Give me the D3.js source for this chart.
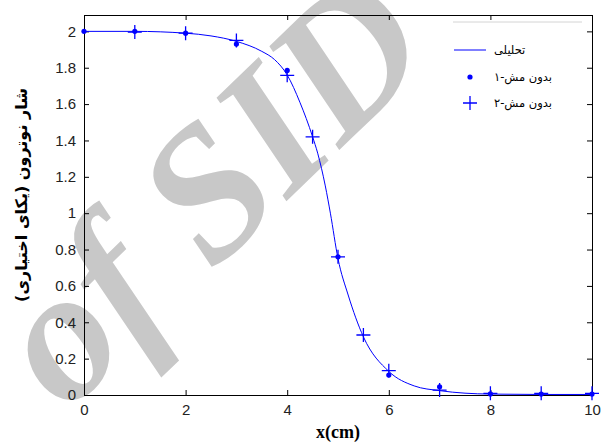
<!DOCTYPE html>
<html>
<head>
<meta charset="utf-8">
<script src="https://cdn.jsdelivr.net/npm/d3@7"></script>
<style>
  body { margin: 0; background: #fff; }
  svg { display: block; }
</style>
</head>
<body>
<div id="chart"></div>
<script>
// ---------- data ----------
const curveX = [0, 1, 2, 2.5, 3, 3.5, 3.75, 4, 4.25, 4.5, 4.6, 4.75, 4.85, 5, 5.2, 5.5, 6, 6.5, 7, 7.5, 8, 9, 10];
const curveY = [2.0, 2.0, 1.99, 1.975, 1.945, 1.89, 1.845, 1.76, 1.61, 1.42, 1.33, 1.15, 1.0, 0.75, 0.55, 0.32, 0.13, 0.05, 0.024, 0.01, 0.005, 0.003, 0.003];

const mesh1X = [0, 1, 2, 3, 4, 5, 6, 7, 8, 9, 10];
const mesh1Y = [2.0, 2.0, 1.99, 1.93, 1.785, 0.76, 0.11, 0.045, 0.006, 0.005, 0.005];

const mesh2X = [1, 2, 3, 4, 4.5, 5, 5.5, 6, 7, 8, 9, 10];
const mesh2Y = [1.996, 1.99, 1.95, 1.758, 1.42, 0.76, 0.33, 0.134, 0.027, 0.009, 0.009, 0.009];

const xTicks = [0, 2, 4, 6, 8, 10];
const yTicks = [0, 0.2, 0.4, 0.6, 0.8, 1, 1.2, 1.4, 1.6, 1.8, 2];

const legendLabels = ["تحلیلی", "بدون مش-۱", "بدون مش-۲"];

// ---------- layout ----------
const WIDTH = 603, HEIGHT = 446;
const BLUE = "#0000ff";

const svg = d3.select("#chart").append("svg")
    .attr("width", WIDTH)
    .attr("height", HEIGHT);

// watermark sits under everything
svg.append("text")
    .attr("transform", "translate(66,414) rotate(-44)")
    .attr("font-family", "'Liberation Serif', 'Times New Roman', serif")
    .attr("font-weight", "bold")
    .attr("font-style", "italic")
    .attr("font-size", 188)
    .attr("fill", "#c8c8c8")
    .text("of SID");

const x = d3.scaleLinear().domain([0, 10]).range([84, 592]);
const y = d3.scaleLinear().domain([0, 2.09]).range([395, 15]);

// axes (MATLAB-ish: ticks inside, box all round)
const axisFont = "'Liberation Sans', Arial, sans-serif";

const xAxis = svg.append("g")
    .attr("transform", `translate(0,${y(0)})`)
    .call(d3.axisBottom(x).tickValues(xTicks).tickSizeInner(-5).tickSizeOuter(0).tickPadding(9).tickFormat(d3.format("d")));
const xTop = svg.append("g")
    .attr("transform", `translate(0,${y.range()[1]})`)
    .call(d3.axisTop(x).tickValues(xTicks).tickSizeInner(-5).tickSizeOuter(0).tickFormat(""));
const yAxis = svg.append("g")
    .attr("transform", `translate(${x(0)},0)`)
    .call(d3.axisLeft(y).tickValues(yTicks).tickSizeInner(-5).tickSizeOuter(0).tickPadding(8).tickFormat(d => d3.format("~g")(d)));
const yRight = svg.append("g")
    .attr("transform", `translate(${x(10)},0)`)
    .call(d3.axisRight(y).tickValues(yTicks).tickSizeInner(-5).tickSizeOuter(0).tickFormat(""));

[xAxis, xTop, yAxis, yRight].forEach(g => {
    g.select(".domain").attr("stroke", "#000").attr("stroke-width", 1);
    g.selectAll(".tick line").attr("stroke", "#000");
    g.selectAll("text").attr("font-family", axisFont).attr("font-size", 15).attr("fill", "#222");
});

// curve
const pts = curveX.map((v, i) => [v, curveY[i]]);
svg.append("path")
    .datum(pts)
    .attr("fill", "none")
    .attr("stroke", BLUE)
    .attr("stroke-width", 1)
    .attr("d", d3.line().x(d => x(d[0])).y(d => y(d[1])).curve(d3.curveMonotoneX));

// mesh 1 : dots
svg.append("g")
    .selectAll("circle")
    .data(mesh1X.map((v, i) => [v, mesh1Y[i]]))
    .join("circle")
    .attr("cx", d => x(d[0]))
    .attr("cy", d => y(d[1]))
    .attr("r", 2.6)
    .attr("fill", BLUE);

// mesh 2 : plus signs
const plusPath = s => `M${-s},0H${s}M0,${-s}V${s}`;
svg.append("g")
    .selectAll("path")
    .data(mesh2X.map((v, i) => [v, mesh2Y[i]]))
    .join("path")
    .attr("transform", d => `translate(${x(d[0])},${y(d[1])})`)
    .attr("d", plusPath(7))
    .attr("stroke", BLUE)
    .attr("stroke-width", 1.3)
    .attr("fill", "none");

// legend
const legend = svg.append("g");
legend.append("line")
    .attr("x1", 453).attr("x2", 582).attr("y1", 22).attr("y2", 22)
    .attr("stroke", "#d4d4d4");
legend.append("line")
    .attr("x1", 454).attr("x2", 486).attr("y1", 50).attr("y2", 50)
    .attr("stroke", BLUE).attr("stroke-width", 1);
legend.append("circle")
    .attr("cx", 470).attr("cy", 77).attr("r", 2.6).attr("fill", BLUE);
legend.append("path")
    .attr("transform", "translate(470,103)")
    .attr("d", plusPath(7))
    .attr("stroke", BLUE).attr("stroke-width", 1.3);
legend.selectAll("text")
    .data(legendLabels)
    .join("text")
    .attr("x", 494)
    .attr("y", (d, i) => 50 + i * 26.5)
    .attr("dy", "0.35em")
    .attr("font-family", "'DejaVu Sans', sans-serif")
    .attr("font-size", 11.5)
    .attr("fill", "#000")
    .text(d => d);

// axis titles
svg.append("text")
    .attr("x", x(5))
    .attr("y", 438)
    .attr("text-anchor", "middle")
    .attr("font-family", "'Liberation Serif', 'Times New Roman', serif")
    .attr("font-weight", "bold")
    .attr("font-size", 18)
    .text("x(cm)");

svg.append("text")
    .attr("transform", "translate(27,195) rotate(-90)")
    .attr("text-anchor", "middle")
    .attr("font-family", "'DejaVu Sans', sans-serif")
    .attr("font-weight", "bold")
    .attr("font-size", 16)
    .text("شار نوترون (یکای اختیاری)");
</script>
</body>
</html>
